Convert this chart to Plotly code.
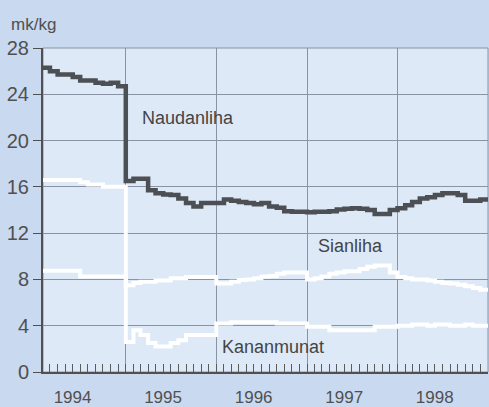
import plotly.graph_objects as go
import pandas as pd

months = pd.date_range("1994-02-01", "1998-12-01", freq="MS")

naudanliha = [26.3, 26.0, 25.7, 25.7, 25.5, 25.2, 25.2, 25.0, 24.9, 25.0, 24.7,
              16.5, 16.7, 16.7, 15.7, 15.45, 15.35, 15.3, 15.0, 14.6, 14.3, 14.6, 14.6,
              14.6, 14.9, 14.8, 14.7, 14.6, 14.5, 14.6, 14.3, 14.2, 13.9, 13.85, 13.85,
              13.8, 13.85, 13.85, 13.9, 14.05, 14.1, 14.15, 14.1, 14.0, 13.65, 13.65, 14.0,
              14.15, 14.4, 14.7, 15.0, 15.1, 15.3, 15.45, 15.45, 15.3, 14.8, 14.8, 14.9]

sianliha = [8.75, 8.75, 8.75, 8.75, 8.75, 8.25, 8.25, 8.25, 8.25, 8.25, 8.25,
            7.5, 7.7, 7.8, 7.8, 7.9, 7.9, 8.1, 8.1, 8.2, 8.2, 8.2, 8.2,
            7.65, 7.65, 7.8, 7.95, 8.0, 8.1, 8.25, 8.3, 8.5, 8.6, 8.6, 8.6,
            8.0, 8.1, 8.25, 8.5, 8.6, 8.7, 8.7, 8.9, 9.1, 9.2, 9.2, 8.6,
            8.2, 8.1, 8.0, 8.0, 7.9, 7.8, 7.7, 7.65, 7.55, 7.4, 7.25, 7.1]

kananmunat = [16.6, 16.6, 16.6, 16.6, 16.6, 16.4, 16.2, 16.2, 16.0, 16.0, 16.0,
              2.6, 3.6, 3.2, 2.5, 2.2, 2.2, 2.5, 2.75, 3.2, 3.2, 3.2, 3.2,
              4.2, 4.2, 4.3, 4.3, 4.3, 4.3, 4.3, 4.3, 4.2, 4.2, 4.2, 4.2,
              3.9, 3.9, 3.9, 3.6, 3.6, 3.6, 3.6, 3.6, 3.6, 3.9, 3.9, 3.9,
              4.0, 4.0, 4.1, 4.1, 4.0, 4.1, 4.1, 4.0, 4.0, 4.1, 4.0, 4.0]

y_ticks = [0, 4, 8, 12, 16, 20, 24, 28]
unit_label = "mk/kg"
series_labels = ["Naudanliha", "Sianliha", "Kananmunat"]

x_end = pd.Timestamp("1999-01-01")
xs = list(months) + [x_end]

def ext(v):
    return list(v) + [v[-1]]

FONT = "Liberation Sans, Arial, Helvetica, sans-serif"
TXT = "#505050"
GRID = "#8a93a3"

fig = go.Figure()
fig.add_trace(go.Scatter(x=xs, y=ext(sianliha), mode="lines", line_shape="hv",
                         line=dict(color="#ffffff", width=4), name=series_labels[1]))
fig.add_trace(go.Scatter(x=xs, y=ext(kananmunat), mode="lines", line_shape="hv",
                         line=dict(color="#ffffff", width=4), name=series_labels[2]))
fig.add_trace(go.Scatter(x=xs, y=ext(naudanliha), mode="lines", line_shape="hv",
                         line=dict(color="#4c4f54", width=4.5), name=series_labels[0]))
# carrier for the monthly tick axis (no visible mark)
fig.add_trace(go.Scatter(x=[xs[0]], y=[None], xaxis="x2", yaxis="y",
                         mode="lines", showlegend=False, hoverinfo="skip"))

fig.update_layout(
    width=489, height=407,
    margin=dict(l=43, r=1, t=48, b=35),
    paper_bgcolor="#c9d9f0",
    plot_bgcolor="#dde9f7",
    showlegend=False,
    xaxis=dict(
        type="date",
        range=["1994-02-01", "1999-01-01"],
        dtick="M12", tick0="1994-01-01",
        ticklabelmode="period",
        tickformat="%Y",
        ticklabelshift=-8,
        ticklabelstandoff=9,
        showgrid=True, gridcolor=GRID, gridwidth=1,
        showline=True, linecolor="#505050", linewidth=2,
        ticks="", automargin=False,
        tickfont=dict(family=FONT, size=17, color=TXT),
        zeroline=False,
    ),
    xaxis2=dict(
        type="date", overlaying="x", matches="x", anchor="y", side="bottom",
        range=["1994-02-01", "1999-01-01"],
        dtick="M1", tick0="1994-01-01",
        ticks="inside", ticklen=8, tickcolor="#5a5a5a", tickwidth=1,
        showticklabels=False, showgrid=False, showline=False, zeroline=False,
        automargin=False,
    ),
    yaxis=dict(
        range=[0, 28],
        tickvals=y_ticks,
        showgrid=True, gridcolor=GRID, gridwidth=1,
        showline=True, linecolor="#505050", linewidth=2,
        ticks="outside", ticklen=8, tickcolor="#505050",
        tickfont=dict(family=FONT, size=20, color=TXT),
        zeroline=False, automargin=False,
    ),
)

fig.add_shape(type="rect", xref="paper", yref="paper", x0=0, x1=1, y0=0, y1=1,
              line=dict(color=GRID, width=1), fillcolor="rgba(0,0,0,0)", layer="below")

fig.add_annotation(text=unit_label, xref="paper", yref="paper", x=-0.077, y=1.074,
                   xanchor="left", yanchor="middle", showarrow=False,
                   font=dict(family=FONT, size=17, color=TXT))

label_pos = [("1995-09-07", 21.95), ("1997-06-25", 10.85), ("1996-08-16", 2.2)]
for txt, (lx, ly) in zip(series_labels, label_pos):
    fig.add_annotation(text=txt, x=lx, y=ly, xref="x", yref="y", showarrow=False,
                       font=dict(family=FONT, size=18, color="#444"))

fig.write_html("out.html", config={"displayModeBar": False},
               post_script="document.body.style.margin='0';document.body.style.background='#c9d9f0';")
